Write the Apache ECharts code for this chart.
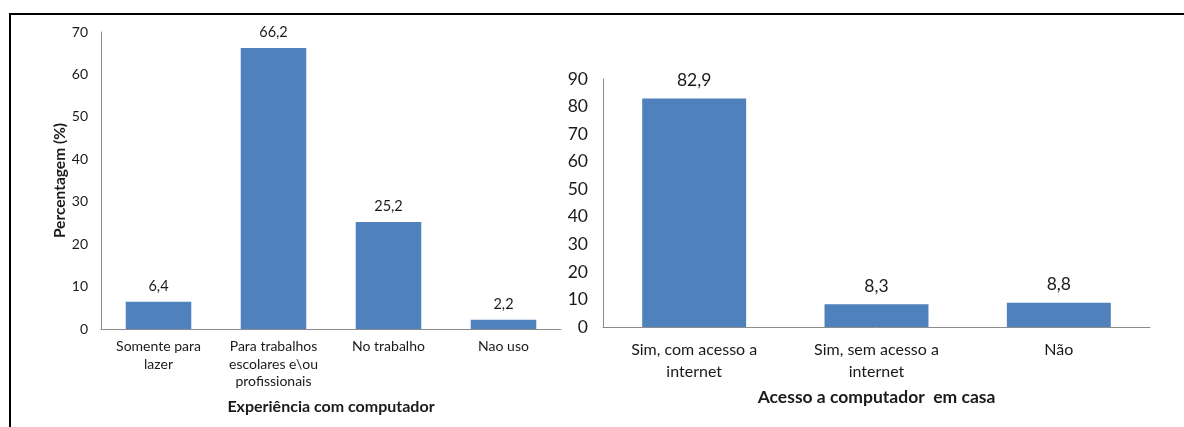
<!DOCTYPE html>
<html>
<head>
<meta charset="utf-8">
<script src="https://cdn.jsdelivr.net/npm/echarts@6/dist/echarts.min.js"></script>
<style>
  html, body { margin: 0; padding: 0; background: #fff; }
  #chart { width: 1184px; height: 427px; }
</style>
</head>
<body>
<div id="chart"></div>
<script>
// Experiência com computador (left panel)
const experienciaCategorias = ['Somente para\nlazer', 'Para trabalhos\nescolares e\\ou\nprofissionais', 'No trabalho', 'Nao uso'];
const experienciaValores = [6.4, 66.2, 25.2, 2.2];
const experienciaTicks = { min: 0, max: 70, interval: 10 };

// Acesso a computador em casa (right panel)
const acessoCategorias = ['Sim, com acesso a\ninternet', 'Sim, sem acesso a\ninternet', 'Não'];
const acessoValores = [82.9, 8.3, 8.8];
const acessoTicks = { min: 0, max: 90, interval: 10 };

const FONT = 'Lato, "Open Sans", sans-serif';
const TEXT = '#1a1a1a';
const BAR = '#4F81BD';
const AXIS = '#8c8c8c';

const virgula = v => v.toFixed(1).replace('.', ',');

const chart = echarts.init(document.getElementById('chart'), null, { renderer: 'canvas' });

chart.setOption({
  backgroundColor: '#ffffff',
  animation: false,
  textStyle: { fontFamily: FONT, color: TEXT },
  grid: [
    { left: 101, top: 32, right: 623, bottom: 98 },
    { left: 603, top: 79, right: 34, bottom: 100 }
  ],
  xAxis: [
    {
      gridIndex: 0, type: 'category', data: experienciaCategorias,
      axisLine: { lineStyle: { color: AXIS, width: 1 } },
      axisTick: { show: false },
      axisLabel: { interval: 0, fontFamily: FONT, fontSize: 14, color: TEXT, lineHeight: 17.5, margin: 9 },
      name: 'Experiência com computador', nameLocation: 'middle', nameGap: 70,
      nameTextStyle: { fontFamily: FONT, fontSize: 16, fontWeight: 'bold', color: TEXT }
    },
    {
      gridIndex: 1, type: 'category', data: acessoCategorias,
      axisLine: { lineStyle: { color: AXIS, width: 1 } },
      axisTick: { show: false },
      axisLabel: { interval: 0, fontFamily: FONT, fontSize: 16, color: TEXT, lineHeight: 22, margin: 12 },
      name: 'Acesso a computador  em casa', nameLocation: 'middle', nameGap: 61,
      nameTextStyle: { fontFamily: FONT, fontSize: 17.5, fontWeight: 'bold', color: TEXT }
    }
  ],
  yAxis: [
    {
      gridIndex: 0, type: 'value',
      min: experienciaTicks.min, max: experienciaTicks.max, interval: experienciaTicks.interval,
      axisLine: { show: true, lineStyle: { color: AXIS, width: 1 } },
      axisTick: { show: false },
      splitLine: { show: false },
      axisLabel: { fontFamily: FONT, fontSize: 14, color: TEXT, margin: 13 },
      name: 'Percentagem (%)', nameLocation: 'middle', nameGap: 32, nameRotate: 90,
      nameTextStyle: { fontFamily: FONT, fontSize: 15.5, fontWeight: 'bold', color: TEXT }
    },
    {
      gridIndex: 1, type: 'value',
      min: acessoTicks.min, max: acessoTicks.max, interval: acessoTicks.interval,
      axisLine: { show: true, lineStyle: { color: AXIS, width: 1 } },
      axisTick: { show: false },
      splitLine: { show: false },
      axisLabel: { fontFamily: FONT, fontSize: 17.5, color: TEXT, margin: 15 }
    }
  ],
  series: [
    {
      type: 'bar', xAxisIndex: 0, yAxisIndex: 0, data: experienciaValores,
      barWidth: '57%',
      itemStyle: { color: BAR },
      label: { show: true, position: 'top', distance: 8, fontFamily: FONT, fontSize: 14.5, color: TEXT,
               formatter: p => virgula(p.value) }
    },
    {
      type: 'bar', xAxisIndex: 1, yAxisIndex: 1, data: acessoValores,
      barWidth: '57%',
      itemStyle: { color: BAR },
      label: { show: true, position: 'top', distance: 9, fontFamily: FONT, fontSize: 17.5, color: TEXT,
               formatter: p => virgula(p.value) }
    }
  ],
  graphic: [
    {
      type: 'polyline',
      shape: { points: [[10, 427], [10, 14], [1184, 14]] },
      style: { stroke: '#000', lineWidth: 2, fill: null }
    }
  ]
});
</script>
</body>
</html>
